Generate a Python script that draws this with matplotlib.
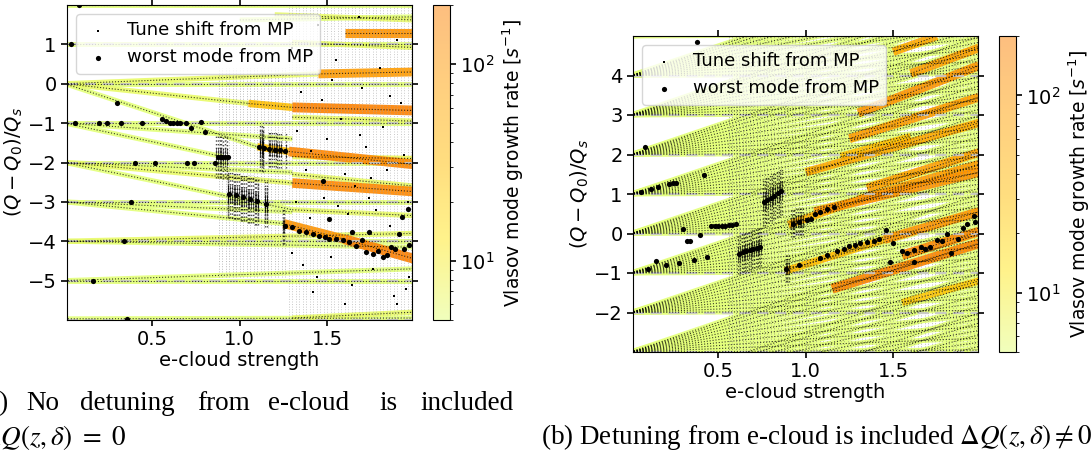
import numpy as np
import matplotlib.pyplot as plt
from matplotlib.collections import LineCollection
from matplotlib.colors import LogNorm
import matplotlib.cm as cm

plt.rcParams['font.size'] = 14

#--------------------- DATA -------------------#
# growth-rate colour range [1/s]
rate_min, rate_max = 5, 200

# e-cloud strength scan points (columns of MP tune spectra)
ecloud_scan = np.round(np.arange(0.02, 2.0, 0.02), 2)
fine_scan = np.round(np.arange(0.005, 2.0, 0.01), 3)

# (a) Vlasov modes, no detuning: x0, y0, x1, y1, growth rate
a_bands = [
    (0.0, 2.0, 2.0, 2.0, 5), (1.2, 1.75, 2.0, 1.62, 6), (1.0, 1.62, 2.0, 1.7, 5),
    (0.0, 1.0, 2.0, 1.0, 5), (1.3, 1.05, 2.0, 0.92, 6),
    (1.6, 1.3, 2.0, 1.3, 110),
    (0.0, 0.0, 2.0, 0.0, 5), (0.0, 0.0, 1.45, 0.25, 6), (1.45, 0.25, 2.0, 0.3, 90),
    (0.0, 0.0, 1.05, -0.5, 6), (1.05, -0.5, 1.3, -0.6, 30), (1.3, -0.6, 2.0, -0.68, 190),
    (0.0, 0.0, 1.1, -1.6, 5), (1.1, -1.6, 1.28, -1.72, 30), (1.28, -1.72, 2.0, -2.05, 170),
    (1.3, -0.85, 2.0, -0.95, 6),
    (0.0, -1.0, 2.0, -1.0, 5), (0.0, -1.0, 0.9, -1.85, 5), (0.0, -1.0, 1.3, -1.4, 5),
    (1.3, -1.85, 2.0, -1.9, 7),
    (0.0, -2.0, 2.0, -2.0, 5), (0.0, -2.0, 1.3, -2.25, 5), (0.0, -2.0, 1.3, -2.52, 6),
    (1.3, -2.52, 2.0, -2.74, 160), (0.0, -2.0, 1.3, -3.2, 5), (1.3, -3.2, 2.0, -3.35, 6),
    (1.3, -2.3, 2.0, -2.6, 6),
    (0.0, -3.0, 2.0, -3.0, 5), (0.0, -3.0, 1.25, -3.55, 5), (0.0, -3.0, 1.3, -3.25, 5),
    (1.25, -3.55, 1.6, -3.95, 110), (1.6, -3.95, 2.0, -4.45, 200),
    (0.0, -4.0, 2.0, -4.0, 5), (0.0, -4.0, 2.0, -4.15, 5), (0.0, -4.0, 2.0, -3.8, 6),
    (0.0, -5.0, 2.0, -5.0, 5), (0.0, -5.0, 2.0, -4.7, 5),
    (0.0, -5.97, 2.0, -5.95, 5), (1.3, -5.95, 2.0, -5.8, 6),
]

# (a) worst mode from MP
a_worst_x = [0.034, 0.078, 0.059, 0.196, 0.24, 0.32, 0.44, 0.297, 0.557,
             0.58, 0.60, 0.62, 0.64, 0.66, 0.69, 0.72, 0.78, 0.80,
             0.857, 0.70, 0.74, 0.515, 0.40, 0.376, 0.34, 0.158, 0.357,
             0.876, 0.89, 0.90, 0.915, 0.93,
             0.94, 0.98, 1.02, 1.06, 1.10, 1.15,
             1.11, 1.14, 1.17, 1.20, 1.23, 1.26,
             1.257, 1.30, 1.34, 1.38, 1.42, 1.456, 1.485, 1.51, 1.55, 1.59, 1.627,
             1.665, 1.70, 1.72, 1.76, 1.79, 1.82, 1.84, 1.865, 1.89, 1.91, 1.93,
             1.96, 1.94, 1.97, 1.475, 1.51, 1.64, 1.74]
a_worst_y = [1.0, 1.99, -1.0, -1.0, -1.0, -1.0, -1.0, -0.49, -0.89,
             -0.95, -1.0, -1.0, -1.0, -1.0, -1.0, -1.12, -0.98, -1.23,
             -2.01, -2.0, -2.0, -2.0, -2.0, -3.0, -4.0, -5.02, -5.97,
             -1.85, -1.85, -1.86, -1.85, -1.86,
             -2.8, -2.83, -2.88, -2.93, -2.98, -3.05,
             -1.61, -1.64, -1.66, -1.67, -1.68, -1.7,
             -3.62, -3.64, -3.73, -3.77, -3.81, -3.86, -3.9, -3.94, -3.94, -3.98, -4.03,
             -4.11, -3.98, -4.28, -4.32, -4.24, -4.4, -4.36, -4.15, -4.19, -3.81, -3.39,
             -3.18, -4.2, -4.1, -2.46, -3.43, -3.77, -3.77]

# (a) scattered MP tune shifts beyond the instability threshold
a_mp_x = [1.30, 1.35, 1.33, 1.38, 1.32, 1.36, 1.42, 1.45, 1.47, 1.50, 1.48, 1.52,
          1.55, 1.58, 1.60, 1.62, 1.64, 1.68, 1.70, 1.72, 1.74, 1.76, 1.80, 1.82,
          1.84, 1.86, 1.88, 1.90, 1.92, 1.94, 1.96, 1.97, 1.40, 1.56, 1.66, 1.78,
          1.30, 1.44, 1.60, 1.90, 1.53, 1.69, 1.86, 1.41, 1.75, 1.95]
a_mp_y = [0.9, -0.2, -1.2, -2.2, -3.0, -4.6, -5.3, 1.5, -0.4, -1.4, -2.9, -4.4,
          0.6, -0.9, -2.3, -3.3, -5.1, 1.7, -0.1, -1.6, -2.9, -4.7, 0.4, -1.1,
          -2.2, -3.6, -5.4, 1.1, -0.5, -1.8, -3.0, -4.9, -3.4, -3.1, -2.6, -3.2,
          -4.3, -4.9, -5.6, -5.6, 0.1, -1.3, -0.3, -1.7, -2.4, -5.2]

# (b) Vlasov modes with detuning: every integer mode fans out
b_start_tunes = [-5, -4, -3, -2, -1, 0, 1, 2, 3, 4, 5]
b_end_shifts = [0.05, 0.35, 0.65, 0.95, 1.25, 1.55, 1.85, 2.15, 2.45, 2.75, 3.0]
b_fan_rate = 5

# (b) unstable stripes: x0, y0, x1, y1, growth rate
b_stripes = [
    (0.88, -0.95, 1.45, -0.15, 35), (1.45, -0.15, 1.99, 0.55, 110),
    (1.15, -1.40, 1.99, -0.25, 180), (1.55, -0.55, 1.99, 0.05, 150),
    (0.90, 0.22, 1.30, 0.85, 45), (1.30, 0.85, 1.99, 1.75, 90),
    (1.05, 0.55, 1.99, 1.55, 120), (1.35, 1.15, 1.99, 2.05, 80),
    (1.00, 1.55, 1.99, 2.80, 60), (1.25, 2.40, 1.99, 3.45, 90),
    (1.30, 3.05, 1.99, 4.25, 110), (1.60, 4.05, 1.99, 4.70, 80),
    (1.50, 4.60, 1.75, 5.0, 60), (1.55, -1.75, 1.99, -1.2, 25),
    (1.20, 1.95, 1.60, 2.45, 30),
]

# (b) worst mode from MP
b_worst_x = [0.058, 0.117, 0.157, 0.216, 0.24, 0.26, 0.42, 0.079, 0.376,
             0.098, 0.144, 0.199, 0.277, 0.359, 0.437, 0.298, 0.32, 0.34, 0.397,
             0.46, 0.48, 0.50, 0.52, 0.54, 0.56, 0.58, 0.60,
             0.62, 0.64, 0.66, 0.68, 0.70, 0.72, 0.74,
             0.76, 0.78, 0.80, 0.82, 0.84, 0.86,
             0.925, 0.96, 1.006, 1.03, 1.05, 1.08, 1.12, 1.16,
             0.888, 0.96, 1.08, 1.12, 1.18, 1.22, 1.25, 1.28, 1.31, 1.35, 1.39, 1.42, 1.46,
             1.50, 1.55, 1.58, 1.62, 1.66, 1.71, 1.75, 1.81, 1.87, 1.92, 1.97,
             1.83, 1.48, 1.62, 1.68, 1.78, 1.90, 1.96]
b_worst_y = [1.05, 1.12, 1.17, 1.25, 1.27, 1.28, 1.47, 2.19, 4.86,
             -0.90, -0.69, -0.81, -0.74, -0.66, -0.59, 0.11, -0.2, -0.18, -0.04,
             0.18, 0.19, 0.19, 0.2, 0.2, 0.21, 0.22, 0.24,
             -0.52, -0.48, -0.45, -0.42, -0.38, -0.36, -0.33,
             0.8, 0.86, 0.91, 0.96, 1.02, 1.08,
             0.25, 0.3, 0.34, 0.36, 0.5, 0.55, 0.62, 0.68,
             -0.89, -0.79, -0.61, -0.55, -0.45, -0.38, -0.32, -0.28, -0.25, -0.22, -0.2, -0.15, 0.08,
             -0.25, -0.45, -0.5, -0.72, -0.34, -0.34, -0.17, 0.0, -0.13, 0.25, 0.3,
             -0.5, -0.72, -0.42, -0.4, -0.2, 0.15, 0.45]

# light MP background columns: x from, x to, y from, y to, grey level
a_columns = [(0.87, 1.27, -4.9, 0.4, '0.55'), (1.27, 1.99, -6.0, 2.0, '0.65')]
b_columns = [(0.55, 1.0, -3.0, 5.0, '0.45'), (1.0, 1.99, -3.0, 5.0, '0.55')]

# dark vertical MP streaks around the worst mode: x from, x to, half height
a_streaks = [(0.86, 0.94, 0.55), (0.935, 1.16, 0.6), (1.10, 1.27, 0.45)]
b_streaks = [(0.61, 0.75, 0.5), (0.75, 0.87, 0.6), (0.88, 0.99, 0.35)]

#--------------------- PLOT -------------------#
cmap = plt.get_cmap('Wistia')
norm = LogNorm(rate_min, rate_max)


def draw_bands(ax, bands):
    bands = sorted(bands, key=lambda b: b[4])
    segs = [[(b[0], b[1]), (b[2], b[3])] for b in bands]
    rates = np.array([b[4] for b in bands], dtype=float)
    ax.add_collection(LineCollection(segs, colors=cmap(norm(rates)),
                                     linewidths=3.6 + 2.2 * np.log10(rates / rate_min),
                                     alpha=0.9, capstyle='butt', zorder=1))
    ax.add_collection(LineCollection(segs, colors='k', linewidths=0.8,
                                     linestyles=':', alpha=0.75, zorder=3))


def draw_columns(ax, columns):
    for x0, x1, y0, y1, c in columns:
        xs = ecloud_scan[(ecloud_scan >= x0) & (ecloud_scan <= x1)]
        ax.vlines(xs, y0, y1, colors=c, linestyles=':', linewidth=0.7,
                  alpha=0.6, zorder=2)


def draw_streaks(ax, streaks, wx, wy):
    # MP spectra smear vertically around the nearest worst-mode tune
    wx, wy = np.array(wx), np.array(wy)
    for x0, x1, h in streaks:
        m = (wx >= x0) & (wx <= x1)
        px, py = wx[m], wy[m]
        xs = fine_scan[(fine_scan >= x0) & (fine_scan <= x1)]
        ys = np.array([py[np.argmin(np.abs(px - x))] for x in xs])
        ax.vlines(xs, ys - h, ys + h, colors='k', linestyles=':',
                  linewidth=1.0, alpha=0.7, zorder=4)
        ax.vlines(xs, ys - h / 2.5, ys + h / 2.5, colors='k',
                  linewidth=0.7, alpha=0.6, zorder=4)


def style_axes(ax, ylim, yticks):
    ax.set_xlim(0.012, 1.985)
    ax.set_ylim(*ylim)
    ax.set_xticks([0.5, 1.0, 1.5])
    ax.set_yticks(yticks)
    ax.tick_params(direction='out', top=True, right=True, width=1.2, length=4)
    ax.set_xlabel('e-cloud strength', labelpad=1)
    ax.set_ylabel(r'$(Q-Q_0)/Q_s$', labelpad=2)
    for y in range(int(ylim[0]), int(ylim[1]) + 1):
        ax.axhline(y, color='0.78', ls=(0, (5, 3)), lw=1.6, alpha=0.9, zorder=2)


fig = plt.figure(figsize=(10.91, 4.55), dpi=100)
W, H = 1091, 455
axA = fig.add_axes([67 / W, 1 - 320 / H, 345 / W, 315 / H])
caxA = fig.add_axes([433 / W, 1 - 320 / H, 17 / W, 315 / H])
axB = fig.add_axes([633 / W, 1 - 352 / H, 345 / W, 316 / H])
caxB = fig.add_axes([999 / W, 1 - 352 / H, 17 / W, 316 / H])

# panel (a)
draw_bands(axA, a_bands)
draw_columns(axA, a_columns)
draw_streaks(axA, a_streaks, a_worst_x, a_worst_y)
axA.scatter(a_mp_x, a_mp_y, s=3, c='k', marker='s', lw=0, zorder=4,
            label='Tune shift from MP')
axA.scatter(a_worst_x, a_worst_y, s=14, c='k', lw=0, zorder=5,
            label='worst mode from MP')
style_axes(axA, (-6, 2), [-5, -4, -3, -2, -1, 0, 1])
axA.legend(loc='upper left', fontsize=13, handlelength=1.6)

# panel (b)
fan = [(0.0, n, 2.0, n + d, b_fan_rate) for n in b_start_tunes for d in b_end_shifts]
draw_bands(axB, fan + b_stripes)
draw_columns(axB, b_columns)
draw_streaks(axB, b_streaks, b_worst_x, b_worst_y)
axB.scatter([], [], s=3, c='k', marker='s', lw=0, label='Tune shift from MP')
axB.scatter(b_worst_x, b_worst_y, s=14, c='k', lw=0, zorder=5,
            label='worst mode from MP')
style_axes(axB, (-3, 5), [-2, -1, 0, 1, 2, 3, 4])
axB.legend(loc='upper left', fontsize=13, handlelength=1.6)

for cax in (caxA, caxB):
    sm = cm.ScalarMappable(norm=norm, cmap=cmap)
    cb = fig.colorbar(sm, cax=cax, alpha=0.5)
    cb.set_label(r'Vlasov mode growth rate [$s^{-1}$]', fontsize=13.5)
    cb.ax.tick_params(width=1.2, length=4)

# captions
cap = dict(family='Liberation Serif', fontsize=19.5, math_fontfamily='stix', va='center')
fig.text(9 / W, 1 - 404 / H, '(a)', ha='right', **cap)
for word, xpix in [('No', 26), ('detuning', 80), ('from', 197), ('e-cloud', 268),
                   ('is', 379), ('included', 420)]:
    fig.text(xpix / W, 1 - 404 / H, word, ha='left', **cap)
fig.text(-19 / W, 1 - 437 / H, r'$\Delta Q(z,\delta)\ =\ 0$', ha='left', **cap)
fig.text(541 / W, 1 - 437 / H,
         r'(b) Detuning from e-cloud is included $\Delta Q(z,\delta) \neq 0$',
         ha='left', **cap)

fig.savefig('out.png', dpi=100)
